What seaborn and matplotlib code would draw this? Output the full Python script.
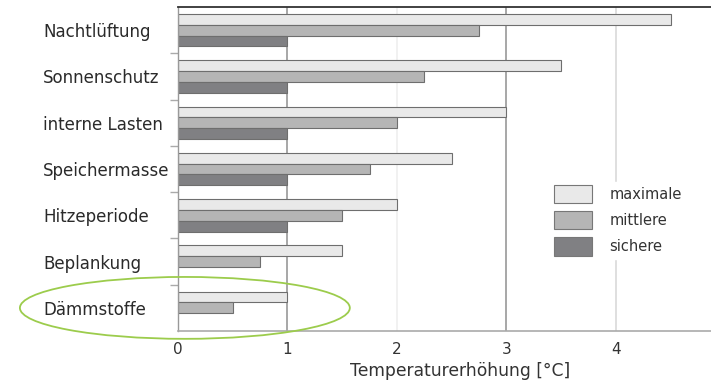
import seaborn as sns
import matplotlib.pyplot as plt
import pandas as pd
import numpy as np
from matplotlib.patches import Ellipse, Patch

# data
kategorien = ['Nachtlüftung', 'Sonnenschutz', 'interne Lasten', 'Speichermasse',
              'Hitzeperiode', 'Beplankung', 'Dämmstoffe']
maximale = [4.5, 3.5, 3.0, 2.5, 2.0, 1.5, 1.0]
mittlere = [2.75, 2.25, 2.0, 1.75, 1.5, 0.75, 0.5]
sichere = [1.0, 1.0, 1.0, 1.0, 1.0, np.nan, np.nan]
stufen = ['maximale', 'mittlere', 'sichere']
farben = ['#e9e9e9', '#b5b5b5', '#808083']

df = pd.DataFrame({
    'kategorie': kategorien * 3,
    'wert': maximale + mittlere + sichere,
    'stufe': [s for s in stufen for _ in kategorien],
})

sns.set_style('white')
plt.rcParams['font.family'] = ['DejaVu Sans']

fig = plt.figure(figsize=(7.11, 3.82), dpi=100)
ax = fig.add_axes([0.2504, 0.1335, 0.7496, 0.848])

# vertical grid lines behind the bars
for xv, c in [(1, '#a0a0a0'), (2, '#f0f0f0'), (3, '#a0a0a0'), (4, '#dcdcdc')]:
    ax.axvline(xv, color=c, lw=1.3, zorder=0)

sns.barplot(data=df, y='kategorie', x='wert', hue='stufe', hue_order=stufen,
            palette=farben, orient='h', width=0.7, edgecolor='#6e6e6e',
            linewidth=0.8, legend=False, ax=ax, zorder=2)

ax.set_xlim(0, 4.87)
ax.set_ylim(6.5, -0.5)
ax.set_xticks([0, 1, 2, 3, 4])
ax.tick_params(axis='x', labelsize=11, labelcolor='#333333', length=0, pad=8)
ax.set_xlabel('Temperaturerhöhung [°C]', fontsize=12.3, color='#333333')
ax.xaxis.set_label_coords(0.53, -0.095)
ax.set_ylabel('')

# category labels left aligned, ticks between groups
ax.set_yticks(range(len(kategorien)))
ax.set_yticklabels(kategorien)
ax.tick_params(axis='y', which='major', length=0, pad=97, labelsize=12,
               labelcolor='#2a2a2a')
for lab in ax.get_yticklabels():
    lab.set_horizontalalignment('left')
ax.set_yticks(np.arange(0.5, len(kategorien) - 1, 1), minor=True)
ax.tick_params(axis='y', which='minor', length=6, width=1, color='#aaaaaa', left=True)

ax.spines['right'].set_visible(False)
ax.spines['top'].set_color('#333333')
ax.spines['top'].set_linewidth(1.3)
ax.spines['bottom'].set_color('#aaaaaa')
ax.spines['bottom'].set_linewidth(1.2)
ax.spines['left'].set_color('#999999')
ax.spines['left'].set_linewidth(1.0)

handles = [Patch(facecolor=f, edgecolor='#777777', lw=0.8) for f in farben]
leg = ax.legend(handles, stufen, loc='upper left', bbox_to_anchor=(0.70, 0.46),
                frameon=True, fontsize=10.5, handlelength=2.6, handleheight=1.55,
                labelspacing=0.55, handletextpad=1.2, borderpad=0.2,
                borderaxespad=0)
leg.get_frame().set_edgecolor('white')
leg.get_frame().set_facecolor('white')
leg.get_frame().set_alpha(1)
for t in leg.get_texts():
    t.set_color('#333333')

# green highlight around Dämmstoffe
fig.patches.append(Ellipse((0.26, 0.194), 0.464, 0.162, transform=fig.transFigure,
                           facecolor='none', edgecolor='#9ccc4c', lw=1.3))

fig.savefig('out.png', dpi=100)
